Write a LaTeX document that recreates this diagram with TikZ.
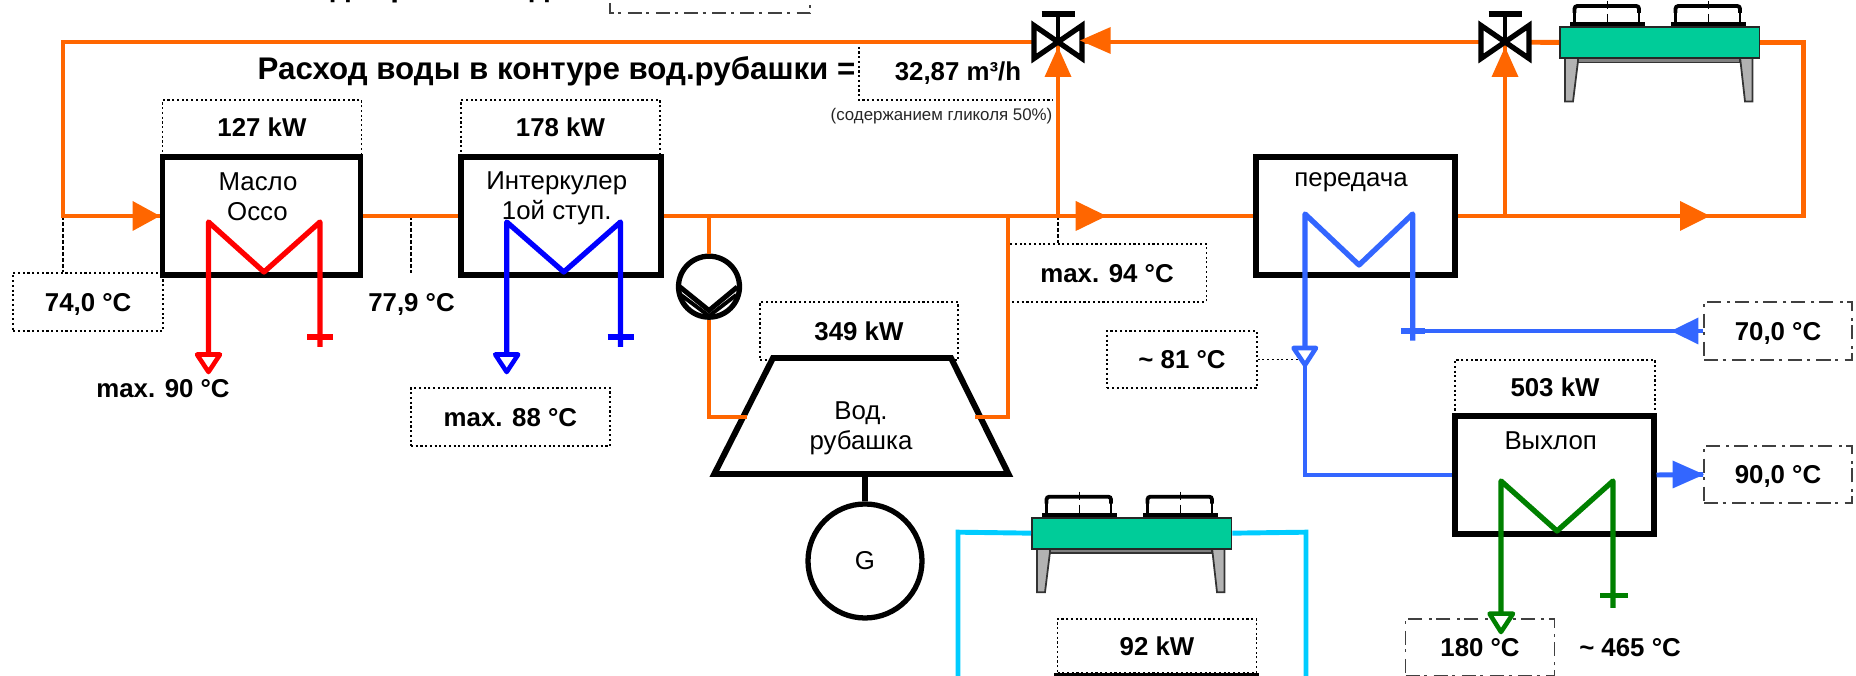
\documentclass[tikz,border=0pt]{standalone}
\usepackage{fontspec}
\setmainfont{Liberation Sans}
\usepackage{xcolor}
\definecolor{CHPOrange}{HTML}{FF6600}
\definecolor{CHPRed}{HTML}{FF0000}
\definecolor{CHPBlue}{HTML}{0000FF}
\definecolor{CHPSteel}{HTML}{3366FF}
\definecolor{CHPGreen}{HTML}{008000}
\definecolor{CHPCyan}{HTML}{00CCFF}
\definecolor{CHPCooler}{HTML}{00CC99}
\definecolor{CHPLeg}{HTML}{B2B2B2}
\definecolor{CHPBar}{HTML}{808080}
\tikzset{
  pipe/.style={line width=1.4pt,line join=miter},
  coil/.style={line width=1.5pt,line join=round},
  opentip/.style={line width=1.3pt,line join=round,fill=white},
  equipbox/.style={draw=black,fill=white,line width=1.7pt,inner sep=0pt,minimum height=1.185cm},
  tagbox/.style={draw=black,line width=.5pt,dash pattern=on .6pt off .75pt,inner sep=0pt,text height=5.3pt,text depth=0pt,font=\valuefont},
  chainbox/.style={draw=black!75,line width=.5pt,dash pattern=on 4pt off 1.3pt on .85pt off 1.85pt,inner sep=0pt,text height=5.3pt,text depth=0pt,font=\valuefont},
  tagline/.style={line width=.5pt,dash pattern=on .6pt off .75pt},
  leader/.style={line width=.5pt,dash pattern=on 1.1pt off .6pt},
  valuetext/.style={inner sep=0pt,text height=5.3pt,text depth=0pt,font=\valuefont},
  nametext/.style={inner sep=0pt,align=center,font=\namefont}
}
\newcommand{\valuefont}{\fontsize{7.35}{8.8}\selectfont\bfseries}
\newcommand{\namefont}{\fontsize{7.35}{8.6}\selectfont}
\newcommand{\titlefont}{\fontsize{8.9}{10.5}\selectfont\bfseries}
\begin{document}
\begin{tikzpicture}[x=1cm,y=1cm]
\path[use as bounding box] (0,0) rectangle (18.56,6.76);
\clip (0,0) rectangle (18.56,6.76);
\node[anchor=base,inner sep=0pt,font=\titlefont] (topa) at (3.405,6.79) {д};
\node[anchor=base,inner sep=0pt,font=\titlefont] (topb) at (4.00,6.79) {р};
\node[anchor=base,inner sep=0pt,font=\titlefont] (topc) at (5.395,6.79) {д};
\draw[draw=black!75,line width=.5pt,dash pattern=on 4pt off 1.3pt on .85pt off 1.85pt] (6.10,6.73) -- (6.10,6.627) -- (8.10,6.627) -- (8.10,6.73);

\node[tagbox,minimum width=1.99cm,minimum height=.55cm] (oilpower) at (2.62,5.485) {127 kW};
\node[tagbox,minimum width=1.99cm,minimum height=.55cm] (icpower) at (5.605,5.485) {178 kW};
\node[tagbox,minimum width=1.50cm,minimum height=.58cm] (oiltemp) at (0.882,3.742) {74,0 °C};
\node[tagbox,minimum width=1.99cm,minimum height=.58cm] (icmax) at (5.104,2.59) {max. 88 °C};
\node[tagbox,minimum width=1.99cm,minimum height=.574cm] (jacketmax) at (11.07,4.03) {max. 94 °C};
\node[tagbox,minimum width=1.98cm,minimum height=.58cm] (jacketpower) at (8.59,3.45) {349 kW};
\node[tagbox,minimum width=1.494cm,minimum height=.576cm] (steeltemp) at (11.82,3.165) {\textasciitilde{} 81 °C};
\node[tagbox,minimum width=1.997cm,minimum height=.547cm] (exhpower) at (15.55,2.89) {503 kW};
\node[tagbox,minimum width=1.99cm,minimum height=.54cm] (coolpower) at (11.57,0.30) {92 kW};
\node[chainbox,minimum width=1.48cm,minimum height=.58cm] (returntemp) at (17.78,3.45) {70,0 °C};
\node[chainbox,minimum width=1.48cm,minimum height=.57cm] (outtemp) at (17.78,2.015) {90,0 °C};
\node[chainbox,minimum width=1.488cm,minimum height=.564cm] (exhtemp) at (14.80,0.285) {180 °C};

\node[valuetext] (ictemp) at (4.115,3.743) {77,9 °C};
\node[valuetext] (oilmax) at (1.63,2.88) {max. 90 °C};
\node[valuetext] (exhin) at (16.30,0.29) {\textasciitilde{} 465 °C};
\node[valuetext] (flowrate) at (9.58,6.05) {32,87 m³/h};
\node[anchor=west,inner sep=0pt,font=\titlefont] (flowtitle) at (2.57,6.05) {Расход воды в контуре вод.рубашки =};
\node[anchor=east,inner sep=0pt,text=black!85,font=\fontsize{4.8}{6}\selectfont] (glycol) at (10.53,5.60) {(содержанием гликоля 50\%)};
\draw[tagline] (8.587,6.34) -- (8.587,5.76) -- (10.53,5.76);

\node[equipbox,minimum width=1.98cm] (oilbox) at (2.615,4.60) {};
\node[equipbox,minimum width=1.995cm] (icbox) at (5.61,4.60) {};
\node[equipbox,minimum width=1.995cm] (transferbox) at (13.553,4.60) {};
\node[equipbox,minimum width=1.99cm] (exhbox) at (15.54,2.01) {};
\fill[black] (10.54,0) rectangle (12.585,0.03);

\foreach \cname/\cx/\cy in {dryhot/15.59/6.50,drycool/10.31/1.593} {
  \begin{scope}[shift={(\cx,\cy)}]
  \filldraw[fill=CHPLeg,draw=black!80,line width=.5pt] (0.06,-.31) -- (0.195,-.31) -- (0.14,-.755) -- (0.06,-.755) -- cycle;
  \filldraw[fill=CHPLeg,draw=black!80,line width=.5pt] (1.81,-.31) -- (1.935,-.31) -- (1.935,-.755) -- (1.86,-.755) -- cycle;
  \filldraw[fill=CHPBar,draw=black!80,line width=.5pt] (0.19,-.31) rectangle (1.81,-.365);
  \foreach \fx in {0,1.01} {
    \fill[black] (0.107+\fx,0) rectangle (0.857+\fx,0.04);
    \draw[line width=.65pt] (0.155+\fx,0.03) -- (0.155+\fx,0.14);
    \draw[line width=.65pt] (0.80+\fx,0.03) -- (0.80+\fx,0.14);
    \draw[line width=1.1pt,rounded corners=.8pt] (0.155+\fx,0.13) -- (0.155+\fx,0.20) -- (0.80+\fx,0.20) -- (0.80+\fx,0.13);
    \draw[line width=.3pt] (0.483+\fx,0.25) -- (0.483+\fx,0.17);
    \draw[line width=.3pt] (0.483+\fx,0.12) -- (0.483+\fx,0.04);
  }
  \node[draw=black!85,fill=CHPCooler,line width=.55pt,inner sep=0pt,anchor=north west,minimum width=1.995cm,minimum height=.31cm] (\cname) at (0,0) {};
  \end{scope}
}

\filldraw[fill=white,draw=black,line width=1.7pt] (7.73,3.18) -- (9.51,3.18) -- (10.085,2.02) -- (7.143,2.02) -- cycle;
\node[nametext] (jacketname) at (8.61,2.475) {Вод.\\рубашка};
\coordinate (jacketbase) at (8.65,2.02);
\coordinate (jacketin) at (7.47,2.59);
\coordinate (jacketout) at (9.75,2.59);
\node[circle,draw=black,fill=white,line width=1.5pt,minimum size=1.14cm,inner sep=0pt,font=\namefont] (gen) at (8.65,1.15) {G};
\draw[line width=1.6pt] (jacketbase) -- (gen.north);

\node[circle,draw=black,fill=white,line width=1.5pt,minimum size=.61cm,inner sep=0pt] (pump) at (7.09,3.893) {};
\draw[line width=1.4pt] (6.80,3.89) -- (7.09,3.655) -- (7.373,3.89);
\draw[line width=1.1pt] (6.81,3.81) -- (7.09,3.60) -- (7.363,3.81);

\coordinate (valvemix) at (10.58,6.34);
\coordinate (valvecool) at (15.05,6.34);
\coordinate (oilfeed) at (0.63,4.60);
\coordinate (pumptee) at (7.09,4.60);
\coordinate (jackettee) at (10.08,4.60);
\coordinate (mixtee) at (10.58,4.60);
\coordinate (cooltee) at (15.05,4.60);
\coordinate (dryturn) at (18.035,4.60);
\coordinate (icsense) at (4.11,4.60);
\coordinate (steeldrop) at (13.05,3.28);
\coordinate (steelreturn) at (14.127,3.45);

\draw[leader] (oilfeed) -- (oilfeed |- oiltemp.north);
\draw[leader] (icsense) -- (4.11,4.03);
\draw[leader] (mixtee) -- (mixtee |- jacketmax.north);
\draw[tagline] (steeltemp.east) -- (13.00,3.165);

\draw[pipe,CHPOrange] (valvemix) -- (oilfeed |- valvemix) -- (oilfeed) -- (oilbox.west);
\draw[pipe,CHPOrange] (oilbox.east) -- (icbox.west);
\draw[pipe,CHPOrange] (icbox.east) -- (transferbox.west);
\draw[pipe,CHPOrange] (pumptee) -- (pump.north);
\draw[pipe,CHPOrange] (pump.south) -- (pumptee |- jacketin) -- (jacketin);
\draw[pipe,CHPOrange] (jackettee) -- (jackettee |- jacketout) -- (jacketout);
\draw[pipe,CHPOrange] (mixtee) -- (valvemix);
\draw[pipe,CHPOrange] (cooltee) -- (valvecool);
\draw[pipe,CHPOrange] (valvecool) -- (valvemix);
\draw[pipe,CHPOrange] (valvecool) -- (dryhot.west);
\draw[pipe,CHPOrange] (dryhot.east) -- (dryturn |- dryhot.east) -- (dryturn) -- (transferbox.east);
\draw[pipe,CHPCyan] (drycool.west) -- (9.58,1.438) -- (9.58,0);
\draw[pipe,CHPCyan] (drycool.east) -- (13.06,1.438) -- (13.06,0);

\foreach \coilcol/\xa/\xm/\xb in {CHPRed/2.085/2.64/3.20,CHPBlue/5.067/5.638/6.205} {
  \draw[coil,\coilcol] (\xa,3.22) -- (\xa,4.54) -- (\xm,4.04) -- (\xb,4.54) -- (\xb,3.29);
  \draw[coil,\coilcol] (\xb-.13,3.39) -- (\xb+.13,3.39);
  \draw[opentip,draw=\coilcol] (\xa-.115,3.215) -- (\xa+.115,3.215) -- (\xa,3.04) -- cycle;
}

\draw[coil,CHPSteel] (steeldrop) -- (13.05,4.62) -- (13.59,4.11) -- (14.127,4.62) -- (14.127,3.353);
\draw[coil,CHPSteel] (14.008,3.45) -- (14.247,3.45);
\draw[pipe,CHPSteel] (steelreturn) -- (returntemp.west);
\draw[pipe,CHPSteel] (steeldrop) -- (steeldrop |- exhbox.west) -- (exhbox.west);
\draw[pipe,CHPSteel] (exhbox.east) -- (outtemp.west);
\draw[opentip,draw=CHPSteel] (12.935,3.28) -- (13.16,3.28) -- (13.05,3.11) -- cycle;
\fill[CHPSteel] (16.984,3.585) -- (16.71,3.45) -- (16.984,3.315) -- cycle;
\fill[CHPSteel] (16.725,2.155) -- (17.04,2.015) -- (16.725,1.875) -- cycle;

\draw[coil,CHPGreen] (15.01,0.64) -- (15.01,1.95) -- (15.57,1.45) -- (16.13,1.95) -- (16.13,0.68);
\draw[coil,CHPGreen] (16.00,0.803) -- (16.277,0.803);
\draw[opentip,draw=CHPGreen] (14.895,0.623) -- (15.13,0.623) -- (15.01,0.44) -- cycle;

\node[nametext] (oilname) at (2.58,4.94) {Масло};
\node[nametext] (occoname) at (2.575,4.64) {Оссо};
\node[nametext] (icname) at (5.567,4.93) {Интеркулер};
\node[nametext] (icstage) at (5.567,4.63) {1ой ступ.};
\node[nametext] (transfername) at (13.51,4.94) {передача};
\node[nametext] (exhname) at (15.507,2.35) {Выхлоп};

\foreach \vname in {valvemix,valvecool} {
  \begin{scope}[shift={(\vname)}]
  \draw[line width=1.4pt] (0,0) -- (0,.28);
  \draw[line width=1.7pt] (-.165,.277) -- (.165,.277);
  \filldraw[fill=white,draw=black,line width=1.5pt] (-.24,.165) -- (0,0) -- (-.24,-.165) -- cycle;
  \filldraw[fill=white,draw=black,line width=1.5pt] (.24,.165) -- (0,0) -- (.24,-.165) -- cycle;
  \fill[CHPOrange] (-.135,-.35) -- (0,-.05) -- (.135,-.35) -- cycle;
  \end{scope}
}
\fill[CHPOrange] (11.107,6.49) -- (10.80,6.355) -- (11.107,6.22) -- cycle;
\fill[CHPOrange] (1.326,4.75) -- (1.60,4.60) -- (1.326,4.45) -- cycle;
\fill[CHPOrange] (10.757,4.75) -- (11.065,4.60) -- (10.757,4.45) -- cycle;
\fill[CHPOrange] (16.80,4.75) -- (17.10,4.60) -- (16.80,4.45) -- cycle;
\end{tikzpicture}
\end{document}
